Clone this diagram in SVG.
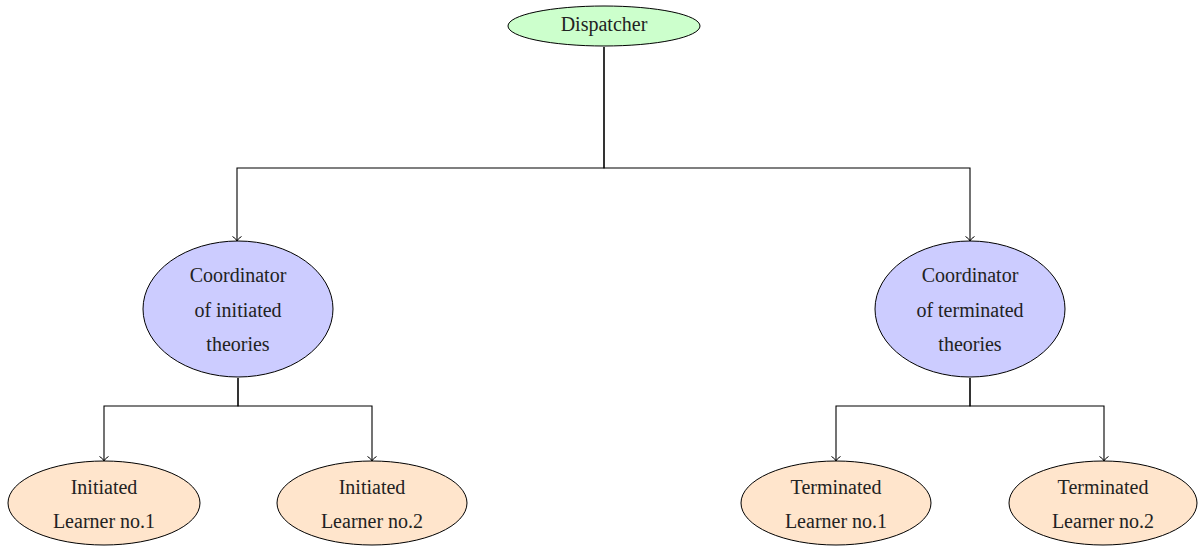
<svg xmlns="http://www.w3.org/2000/svg" width="1198" height="547" viewBox="0 0 1198 547">
<defs>
<style>
.n{stroke:#000;stroke-width:1}
.d{fill:#ccffcc}
.c{fill:#ccccff}
.l{fill:#ffe5cc}
.t{font-family:'Liberation Serif','Times New Roman','DejaVu Serif',serif;font-size:20px;fill:#222;text-anchor:middle}
.e{fill:none;stroke:#000;stroke-width:1.1}
</style>
<marker id="a" markerWidth="12" markerHeight="12" refX="5" refY="8" orient="0" markerUnits="userSpaceOnUse" overflow="visible">
<path d="M0.5,3.5 Q4,5.5 5,8 Q6,5.5 9.5,3.5" fill="none" stroke="#000" stroke-width="1"/>
</marker>
</defs>
<g id="connectors">
<path class="e" d="M604,47 V168 H237 V241" marker-end="url(#a)"/>
<path class="e" d="M604,47 V168 H970 V241" marker-end="url(#a)"/>
<path class="e" d="M238,378 V406 H104 V461" marker-end="url(#a)"/>
<path class="e" d="M238,378 V406 H372 V461" marker-end="url(#a)"/>
<path class="e" d="M970,378 V406 H836 V461" marker-end="url(#a)"/>
<path class="e" d="M970,378 V406 H1104 V461" marker-end="url(#a)"/>
</g>
<g id="dispatcher">
<ellipse class="n d" cx="604" cy="26" rx="96" ry="20"/>
<text class="t" x="604" y="31">Dispatcher</text>
</g>
<g id="coord-initiated">
<ellipse class="n c" cx="238" cy="309" rx="95" ry="68"/>
<text class="t" x="238" y="282">Coordinator</text>
<text class="t" x="238" y="317">of initiated</text>
<text class="t" x="238" y="351">theories</text>
</g>
<g id="coord-terminated">
<ellipse class="n c" cx="970" cy="309" rx="95" ry="68"/>
<text class="t" x="970" y="282">Coordinator</text>
<text class="t" x="970" y="317">of terminated</text>
<text class="t" x="970" y="351">theories</text>
</g>
<g id="init-learner-1">
<ellipse class="n l" cx="104" cy="503" rx="96" ry="42"/>
<text class="t" x="104" y="494">Initiated</text>
<text class="t" x="104" y="528">Learner no.1</text>
</g>
<g id="init-learner-2">
<ellipse class="n l" cx="372" cy="503" rx="95" ry="42"/>
<text class="t" x="372" y="494">Initiated</text>
<text class="t" x="372" y="528">Learner no.2</text>
</g>
<g id="term-learner-1">
<ellipse class="n l" cx="836" cy="503" rx="95" ry="42"/>
<text class="t" x="836" y="494">Terminated</text>
<text class="t" x="836" y="528">Learner no.1</text>
</g>
<g id="term-learner-2">
<ellipse class="n l" cx="1103" cy="503" rx="94" ry="42"/>
<text class="t" x="1103" y="494">Terminated</text>
<text class="t" x="1103" y="528">Learner no.2</text>
</g>
</svg>
